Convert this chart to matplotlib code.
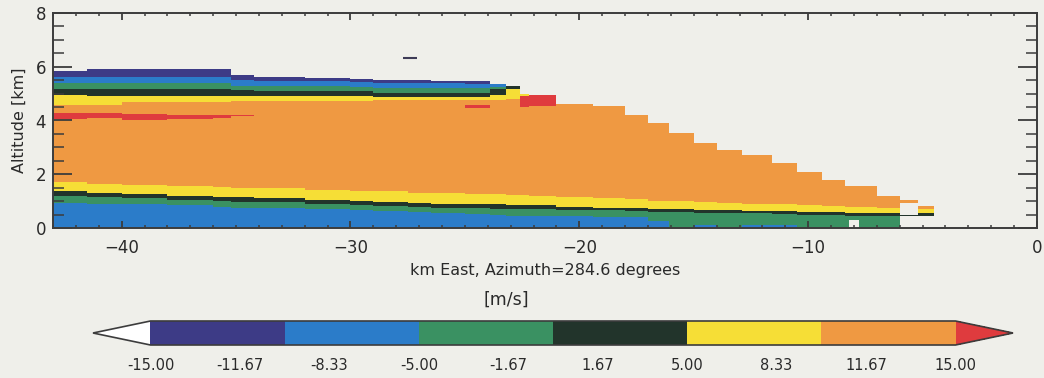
import numpy as np
import matplotlib
matplotlib.use("Agg")
import matplotlib.pyplot as plt
from matplotlib.colors import ListedColormap, BoundaryNorm
from matplotlib.cm import ScalarMappable
from matplotlib.ticker import MultipleLocator

# ---------------- data ----------------
# column edges of the cross-section (km East)
x_edges = [-43.0, -41.5, -40.0, -38.0, -36.0, -35.2, -34.2, -32.0, -30.0, -29.0,
           -27.5, -26.5, -25.0, -23.9, -23.2, -22.6, -22.2, -21.0, -19.4, -18.0,
           -17.0, -16.1, -15.0, -14.0, -12.9, -11.6, -10.5, -9.4, -8.4, -8.2,
           -7.8, -7.0, -6.0, -5.2, -4.5]
nan = np.nan
# echo top / base (km)
echo_top = [5.83, 5.92, 5.92, 5.92, 5.92, 5.70, 5.60, 5.58, 5.56, 5.52,
            5.52, 5.48, 5.46, 5.35, 5.30, 5.00, 4.97, 4.59, 4.53, 4.22,
            3.91, 3.54, 3.16, 2.92, 2.73, 2.42, 2.11, 1.80, 1.55, 1.55,
            1.55, 1.18, 1.05, 0.81]
echo_base = [0.0] * 32 + [0.45, 0.45]
# upper layer stack: bottom altitude of each band (nan = band absent)
navy_bottom = [5.60, 5.62, 5.62, 5.62, 5.62, 5.50, 5.45, 5.45, 5.42, 5.40,
               5.40, 5.38, 5.36, nan, nan, nan] + [nan] * 18
blue_bottom = [5.40, 5.40, 5.40, 5.40, 5.40, 5.30, 5.28, 5.28, 5.25, 5.20,
               5.20, 5.20, 5.20, 5.25, nan, nan] + [nan] * 18
green_bottom = [5.15, 5.18, 5.18, 5.18, 5.18, 5.12, 5.10, 5.10, 5.08, 5.03,
                5.03, 5.03, 5.03, 5.15, nan, nan] + [nan] * 18
dark_bottom = [4.95, 4.92, 4.92, 4.92, 4.92, 4.90, 4.90, 4.90, 4.90, 4.88,
               4.88, 4.88, 4.88, 4.95, 5.15, nan] + [nan] * 18
yellow_bottom = [4.58, 4.58, 4.70, 4.70, 4.70, 4.72, 4.72, 4.72, 4.72, 4.75,
                 4.75, 4.75, 4.75, 4.75, 4.80, 4.90] + [nan] * 18
# embedded red (> 15 m/s) patches
red_lo = [4.05, 4.10, 4.02, 4.05, 4.10, 4.15, nan, nan, nan, nan,
          nan, nan, 4.48, nan, nan, 4.50, 4.55] + [nan] * 17
red_hi = [4.28, 4.28, 4.25, 4.22, 4.22, 4.22, nan, nan, nan, nan,
          nan, nan, 4.58, nan, nan, 4.90, 4.97] + [nan] * 17
# lower layer stack: top altitude of each band
low_yellow_top = [1.70, 1.64, 1.60, 1.55, 1.52, 1.50, 1.48, 1.42, 1.38, 1.35,
                  1.32, 1.30, 1.27, 1.25, 1.24, 1.22, 1.20, 1.15, 1.10, 1.07,
                  1.02, 0.99, 0.97, 0.94, 0.90, 0.87, 0.85, 0.82, 0.78, 0.78,
                  0.78, 0.74, 0.72, 0.70]
low_dark_top = [1.36, 1.30, 1.27, 1.20, 1.16, 1.14, 1.10, 1.05, 1.00, 0.97,
                0.92, 0.90, 0.88, 0.87, 0.86, 0.85, 0.84, 0.80, 0.76, 0.74,
                0.72, 0.70, 0.68, 0.66, 0.64, 0.62, 0.60, 0.58, 0.56, 0.56,
                0.56, 0.55, 0.55, 0.55]
low_green_top = [1.18, 1.15, 1.10, 1.05, 1.00, 0.98, 0.95, 0.90, 0.86, 0.82,
                 0.78, 0.76, 0.74, 0.72, 0.72, 0.71, 0.70, 0.68, 0.65, 0.62,
                 0.60, 0.58, 0.56, 0.55, 0.53, 0.52, 0.50, 0.48, 0.46, 0.46,
                 0.46, 0.45, 0.45, 0.45]
low_blue_top = [0.93, 0.90, 0.87, 0.85, 0.80, 0.76, 0.74, 0.72, 0.66, 0.62,
                0.58, 0.55, 0.52, 0.48, 0.46, 0.45, 0.44, 0.43, 0.42, 0.40,
                0.25, 0.0, 0.10, 0.0, 0.12, 0.10, 0.0, 0.0, 0.0, 0.0,
                0.0, 0.0, 0.0, 0.0]
# no-echo notches inside the echo
gap_lo = [nan] * 29 + [0.0] + [nan] * 2 + [0.50, nan]
gap_hi = [nan] * 29 + [0.28] + [nan] * 2 + [0.92, nan]
# isolated echo pixel aloft
stray_x = [-27.7, -27.1]
stray_z = 6.33

# velocity represented by each band (m/s)
v_navy, v_blue, v_green, v_dark, v_yellow, v_orange, v_red = -12.5, -7.5, -2.5, 2.5, 7.5, 12.5, 17.0

bounds = [-15, -10, -5, 0, 5, 10, 15]
band_colors = ["#3d3b86", "#2b7cc9", "#3a9162", "#22342b", "#f6de36", "#ef9942"]
red_color = "#df3b3e"
cbar_ticks = np.linspace(-15, 15, 10)
bg = "#efefea"

# ---------------- build the gridded field ----------------
z_edges = np.arange(0.0, 8.0001, 0.02)
zc = 0.5 * (z_edges[:-1] + z_edges[1:])
ncol = len(x_edges) - 1
V = np.full((len(zc), ncol), np.nan)
for j in range(ncol):
    z = zc
    empty = (z > echo_top[j]) | (z < echo_base[j]) | ((z > gap_lo[j]) & (z < gap_hi[j]))
    conds = [empty,
             z > navy_bottom[j], z > blue_bottom[j], z > green_bottom[j],
             z > dark_bottom[j], z > yellow_bottom[j],
             (z > red_lo[j]) & (z <= red_hi[j]),
             z > low_yellow_top[j], z > low_dark_top[j], z > low_green_top[j],
             z > low_blue_top[j]]
    vals = [np.nan, v_navy, v_blue, v_green, v_dark, v_yellow, v_red,
            v_orange, v_yellow, v_dark, v_green]
    V[:, j] = np.select(conds, vals, default=v_blue)

cmap = ListedColormap(band_colors)
cmap.set_under("white")
cmap.set_over(red_color)
cmap.set_bad(alpha=0)
norm = BoundaryNorm(bounds, cmap.N)

# ---------------- figure ----------------
fig = plt.figure(figsize=(10.44, 3.78), dpi=100, facecolor=bg)
ax = fig.add_axes([53 / 1044, 1 - 228 / 378, 984 / 1044, 215 / 378])
ax.set_facecolor(bg)
ax.pcolormesh(x_edges, z_edges, np.ma.masked_invalid(V), cmap=cmap, norm=norm,
              shading="flat", antialiased=False, linewidth=0)
ax.hlines(stray_z, stray_x[0], stray_x[1], color="#3d3b56", lw=1.5)

ax.set_xlim(-43, 0)
ax.set_ylim(0, 8)
ax.xaxis.set_major_locator(MultipleLocator(10))
ax.xaxis.set_minor_locator(MultipleLocator(1))
ax.yaxis.set_major_locator(MultipleLocator(2))
ax.yaxis.set_minor_locator(MultipleLocator(0.5))
ink = "#3c3c3c"
ax.tick_params(axis="x", which="major", direction="in", length=5, width=1.3,
               top=True, bottom=True, color=ink, labelsize=12, pad=8, labelcolor="#2a2a2a")
ax.tick_params(axis="x", which="minor", direction="in", length=2.5, width=1.1,
               top=True, bottom=True, color=ink)
ax.tick_params(axis="y", which="major", direction="in", length=14, width=1.3,
               left=True, right=True, color=ink, labelsize=12, pad=5, labelcolor="#2a2a2a")
ax.tick_params(axis="y", which="minor", direction="in", length=8, width=1.1,
               left=True, right=True, color=ink)
for s in ax.spines.values():
    s.set_color(ink)
    s.set_linewidth(1.4)
ax.set_xlabel("km East, Azimuth=284.6 degrees", fontsize=11.5, color="#2a2a2a", labelpad=4)
ax.set_ylabel("Altitude [km]", fontsize=11.5, color="#2a2a2a", labelpad=6)

# colour bar (axes spans the triangles as well)
cax = fig.add_axes([93 / 1044, 1 - 345 / 378, 920 / 1044, 24 / 378])
sm = ScalarMappable(norm=norm, cmap=cmap)
cb = fig.colorbar(sm, cax=cax, orientation="horizontal", extend="both",
                  extendfrac=0.0714, ticks=cbar_ticks)
cb.set_ticklabels([f"{t:.2f}" for t in cbar_ticks])
cb.ax.minorticks_off()
cb.ax.tick_params(which="both", length=0, labelsize=10.5, pad=9, labelcolor="#2a2a2a")
cb.outline.set_edgecolor(ink)
cb.outline.set_linewidth(1.2)
fig.text(506 / 1044, 1 - 300 / 378, "[m/s]", ha="center", va="center",
         fontsize=12.5, color="#2a2a2a")

fig.savefig("out.png", dpi=100, facecolor=bg)
